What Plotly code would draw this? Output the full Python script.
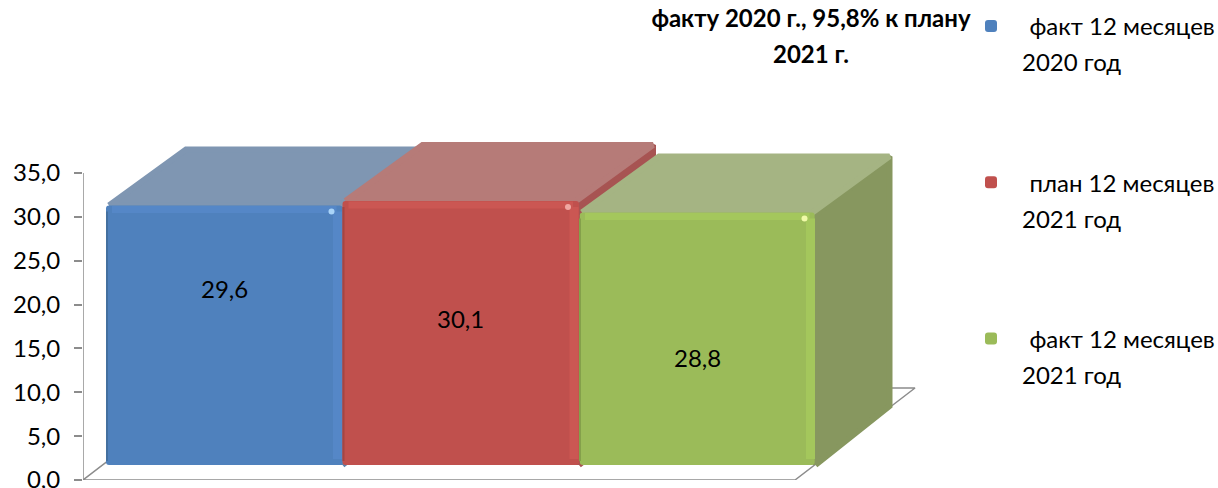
import plotly.graph_objects as go

# ---- data ----
series_line1 = ["факт 12 месяцев", "план 12 месяцев", "факт 12 месяцев"]
series_line2 = ["2020 год", "2021 год", "2021 год"]
values = [29.6, 30.1, 28.8]
y_ticks = [0, 5, 10, 15, 20, 25, 30, 35]
title_line1 = "факту 2020 г., 95,8% к плану"
title_line2 = "2021 г."

# ---- style ----
FONT = "Lato"
FS = 24
W, H = 1218, 488
L, R, T, B = 83, 920, 130, 480
UX, UY = 236.5, 8.77               # px per x unit / y unit
XMIN = 0.5 - 23 / UX
XMAX = XMIN + (R - L) / UX
YMAX = (B - T) / UY
BASE = 15 / UY                     # bars stand in from the floor's front edge
DX, DY = 77 / UX, 59 / UY          # depth of bars
FDX, FDY = 120 / UX, 92 / UY       # depth of floor
FLOOR_RIGHT = XMIN + 712 / UX
GRID = "#8c8c8c"
front = ["#4F81BD", "#C0504D", "#9BBB59"]
light = ["#5587C7", "#CB5753", "#A4C75C"]
dark = ["#44709F", "#A44543", "#84A04B"]
top = ["#7F96B2", "#B67B78", "#A5B483"]
side = ["#5F82AC", "#A75452", "#87975F"]
glow = ["#A9D4F8", "#F0A8A2", "#F0FAA8"]
label_y = [21.8, 18.4, 14.0]
legend_line2_px = [62, 218, 374]


def px(x):
    return (x - L) / (R - L)


def py(y):
    return (B - y) / (B - T)


fig = go.Figure()

# floor
fig.add_trace(go.Scatter(
    x=[XMIN, FLOOR_RIGHT, FLOOR_RIGHT + FDX, XMIN + FDX, XMIN],
    y=[0, 0, FDY, FDY, 0],
    mode="lines", line=dict(color=GRID, width=1.5), fill="toself",
    fillcolor="white", showlegend=False, hoverinfo="skip", cliponaxis=False))
# y axis line
fig.add_trace(go.Scatter(
    x=[XMIN, XMIN], y=[y_ticks[0], y_ticks[-1]], mode="lines",
    line=dict(color=GRID, width=1.5), showlegend=False, hoverinfo="skip", cliponaxis=False))

# top and side faces, painted left to right
ix, iy = 3 / UX, 3 / UY
for i, v in enumerate(values):
    c = i + 1
    l, r = c - 0.5, c + 0.5
    t, b = BASE + v, BASE
    fig.add_trace(go.Scatter(
        x=[r, r, r + DX - ix, r + DX - ix, r], y=[b, t - iy, t + DY - iy, b + DY, b],
        mode="lines", line=dict(color=side[i], width=6), fill="toself", fillcolor=side[i],
        showlegend=False, hoverinfo="skip"))
    fig.add_trace(go.Scatter(
        x=[l + ix, r - ix, r + DX - ix, l + DX + ix, l + ix],
        y=[t, t, t + DY - iy, t + DY - iy, t],
        mode="lines", line=dict(color=top[i], width=6), fill="toself", fillcolor=top[i],
        showlegend=False, hoverinfo="skip"))

# front faces on an overlaid pair of axes so they sit above the depth faces
for i, v in enumerate(values):
    fig.add_trace(go.Bar(
        x=[i + 1], y=[v], base=BASE, width=1.0 if i < 2 else 0.993,
        marker=dict(color=front[i], cornerradius=3, line=dict(width=0)),
        name="\u00a0\u00a0\u00a0" + series_line1[i], legendgroup=f"g{i}",
        xaxis="x2", yaxis="y2", hoverinfo="skip"))

# bevel strips
for i, v in enumerate(values):
    c = i + 1
    l, r = c - 0.5, c + 0.5
    t, b = BASE + v, BASE
    fig.add_trace(go.Scatter(
        x=[l + 6 / UX, r - 6 / UX], y=[t - 4 / UY, t - 4 / UY], mode="lines", xaxis="x2", yaxis="y2",
        line=dict(color=light[i], width=7), showlegend=False, hoverinfo="skip"))
    fig.add_trace(go.Scatter(
        x=[r - 5 / UX, r - 5 / UX], y=[t - 6 / UY, b + 6 / UY], mode="lines", xaxis="x2", yaxis="y2",
        line=dict(color=light[i], width=9), showlegend=False, hoverinfo="skip"))
    fig.add_trace(go.Scatter(
        x=[l + 1 / UX, l + 1 / UX], y=[t - 6 / UY, b + 4 / UY], mode="lines", xaxis="x2", yaxis="y2",
        line=dict(color=dark[i], width=2), showlegend=False, hoverinfo="skip"))
    fig.add_trace(go.Scatter(
        x=[r - 11 / UX], y=[t - 6 / UY], mode="markers", xaxis="x2", yaxis="y2",
        marker=dict(color=glow[i], size=6, symbol="circle", line=dict(width=0)),
        showlegend=False, hoverinfo="skip"))

anns = []
for i, v in enumerate(values):
    anns.append(dict(x=i + 1, y=label_y[i], xref="x2", yref="y2", showarrow=False,
                     text=f"{v:.1f}".replace(".", ","), font=dict(family=FONT, size=FS, color="black")))
for i, s in enumerate(series_line2):
    anns.append(dict(x=px(1020), y=py(legend_line2_px[i]), xref="paper", yref="paper", xanchor="left",
                     yanchor="middle", showarrow=False, text=s, font=dict(family=FONT, size=FS, color="black")))
anns.append(dict(x=px(811), y=py(53), xref="paper", yref="paper", xanchor="center", yanchor="middle",
                 showarrow=False, text=f"<b>{title_line2}</b>", font=dict(family=FONT, size=FS, color="black")))

axis_y = dict(range=[0, YMAX], tickmode="array", tickvals=y_ticks, tickformat=".1f",
              ticks="outside", ticklen=8, tickwidth=1.5, tickcolor=GRID,
              showgrid=False, zeroline=False, showline=False, ticklabelstandoff=9,
              ticklabeloverflow="allow",
              tickfont=dict(family=FONT, size=FS, color="black"))

fig.update_layout(
    width=W, height=H, paper_bgcolor="white", plot_bgcolor="white",
    margin=dict(l=L, r=W - R, t=T, b=H - B, autoexpand=False),
    separators=", ", barmode="overlay",
    showlegend=True,
    title=dict(text=f"<b>{title_line1}</b>", x=811 / W, xanchor="center", xref="container",
               y=1 - 19 / H, yanchor="middle", font=dict(family=FONT, size=FS, color="black")),
    xaxis=dict(range=[XMIN, XMAX], visible=False),
    yaxis=axis_y,
    xaxis2=dict(range=[XMIN, XMAX], visible=False, overlaying="x"),
    yaxis2=dict(range=[0, YMAX], visible=False, overlaying="y"),
    legend=dict(x=px(971), y=py(4), xanchor="left", yanchor="top", bgcolor="rgba(0,0,0,0)",
                font=dict(family=FONT, size=FS, color="black"), traceorder="grouped",
                tracegroupgap=122, maxheight=480),
    annotations=anns,
)

fig.write_html("out.html", config={"displayModeBar": False},
               post_script="document.body.style.margin='0';document.body.style.overflow='hidden';")
